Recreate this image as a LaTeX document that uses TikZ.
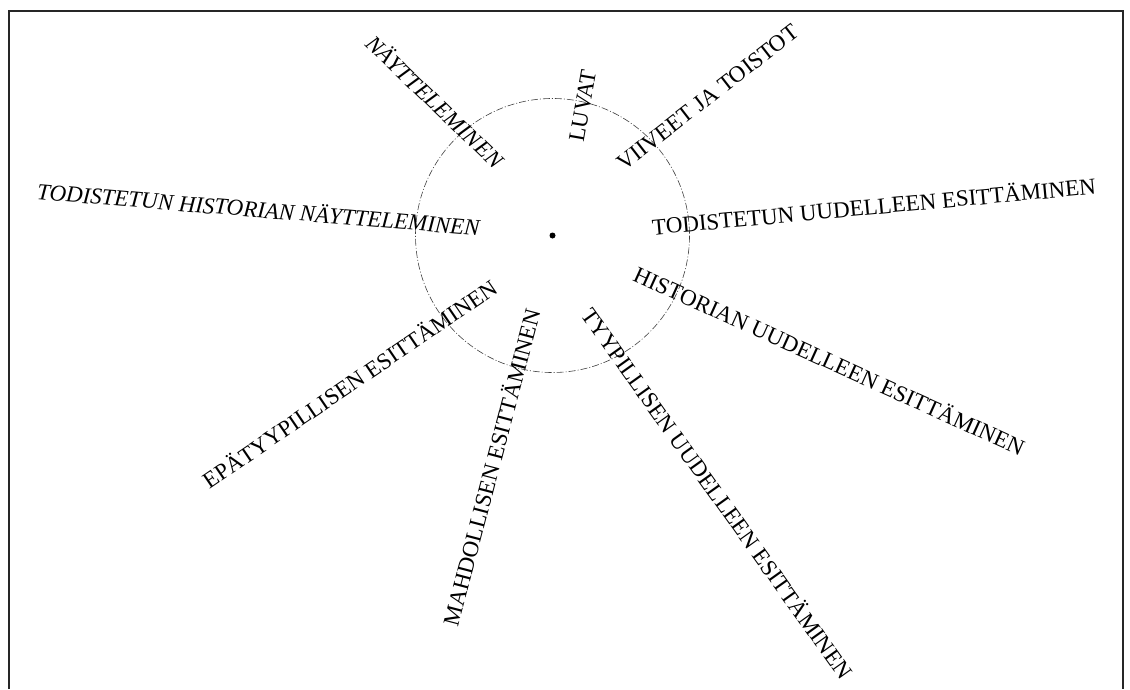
\documentclass[tikz,border=0pt]{standalone}
\usepackage{fontspec}
\setmainfont{Liberation Serif}
\begin{document}
\begin{tikzpicture}[x=1pt,y=-1pt,
  lab/.style={inner sep=0pt, text height=15.2pt, text depth=0pt, anchor=center,
    font=\fontsize{23}{23}\selectfont},
  itlab/.style={lab, font=\fontsize{23}{23}\selectfont\itshape},
  frameline/.style={line width=1.5pt, black!85},
  ring/.style={line width=0.6pt, black!75, dash pattern=on 7pt off 2pt on 1pt off 2pt}]
\useasboundingbox (0,0) rectangle (1130,689);
\draw[frameline] (9,689) -- (9,11) -- (1123,11) -- (1123,689);
\coordinate (c) at (552.5,235.5);
\draw[ring] (c) circle[radius=137];
\fill (c) circle[radius=3];
\node[lab, rotate=5.3] (tue) at (874,207) {TODISTETUN UUDELLEEN ESITTÄMINEN};
\node[lab, rotate=37.8] (vjt) at (707.5,97.5) {VIIVEET JA TOISTOT};
\node[lab, rotate=80] (luv) at (582.5,106) {LUVAT};
\node[itlab, rotate=-43.8] (nay) at (434.5,102) {NÄYTTELEMINEN};
\node[itlab, rotate=-4.7] (thn) at (258.5,210) {TODISTETUN HISTORIAN NÄYTTELEMINEN};
\node[lab, rotate=34.3] (epe) at (350,384.5) {EPÄTYYPILLISEN ESITTÄMINEN};
\node[lab, rotate=75.3] (mae) at (492,467.5) {MAHDOLLISEN ESITTÄMINEN};
\node[lab, rotate=-54.5] (tye) at (717,494) {TYYPILLISEN UUDELLEEN ESITTÄMINEN};
\node[lab, rotate=-24.4] (hue) at (829,361.5) {HISTORIAN UUDELLEEN ESITTÄMINEN};
\end{tikzpicture}
\end{document}
